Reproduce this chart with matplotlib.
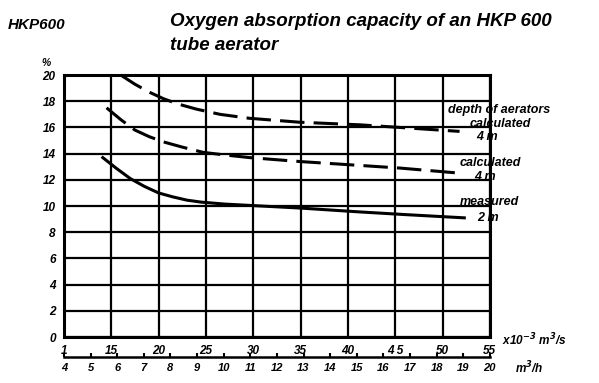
import matplotlib
matplotlib.use('Agg')
import matplotlib.pyplot as plt

plt.rcParams['font.family'] = ['Liberation Sans', 'DejaVu Sans']
plt.rcParams['font.style'] = 'italic'
plt.rcParams['font.weight'] = 'bold'

# flow, x10^-3 m3/s  /  oxygen absorption capacity, %
calc_depth_x = [16.0, 17.5, 19.0, 20.5, 22.0, 24.0, 26.5, 29.6, 34.9, 41.3, 45.5, 51.8]
calc_depth_y = [20.0, 19.3, 18.7, 18.2, 17.8, 17.4, 17.0, 16.7, 16.4, 16.2, 16.0, 15.7]

calc_x = [14.5, 16.0, 17.5, 19.0, 20.5, 22.5, 24.7, 27.0, 29.6, 34.9, 41.3, 45.5, 52.0]
calc_y = [17.5, 16.6, 15.8, 15.3, 14.9, 14.5, 14.1, 13.9, 13.7, 13.4, 13.1, 12.9, 12.5]

meas_x = [14.1, 15.5, 17.0, 18.5, 20.0, 21.5, 23.0, 24.5, 27.0, 29.6, 34.9, 41.3, 46.0, 52.3]
meas_y = [13.7, 12.9, 12.1, 11.5, 11.0, 10.7, 10.45, 10.3, 10.15, 10.05, 9.85, 9.55, 9.35, 9.1]

x_ticks = [10, 15, 20, 25, 30, 35, 40, 45, 50, 55]
x_labels = ['1', '15', '20', '25', '30', '35', '40', '4 5', '50', '55']
y_ticks = [0, 2, 4, 6, 8, 10, 12, 14, 16, 18, 20]
h_ticks = list(range(4, 21))


def to_h(x):
    return 4 + (x - 10) * 16 / 45


def from_h(h):
    return 10 + (h - 4) * 45 / 16


fig = plt.figure(figsize=(5.99, 3.83), dpi=100)
ax = fig.add_axes([0.1068, 0.120, 0.711, 0.684])

ax.set_xlim(10, 55)
ax.set_ylim(0, 20)
ax.set_xticks(x_ticks)
ax.set_xticklabels(x_labels)
ax.set_yticks(y_ticks)
ax.tick_params(length=0, labelsize=8.5, pad=6)
ax.grid(True, color='black', linewidth=1.6)
for s in ax.spines.values():
    s.set_linewidth(2.2)

ax.plot(calc_depth_x, calc_depth_y, color='black', lw=2.2, dashes=(8, 3), clip_on=False)
ax.plot(calc_x, calc_y, color='black', lw=2.2, dashes=(8, 3))
ax.plot(meas_x, meas_y, color='black', lw=2.2)

# curve labels
lab = dict(fontsize=9, ha='center', va='center', clip_on=False)
ax.text(56.0, 17.3, 'depth of aerators', **lab)
ax.text(56.1, 16.3, 'calculated', **lab)
ax.text(54.7, 15.3, '4 m', **lab)
ax.text(55.0, 13.3, 'calculated', **lab)
ax.text(54.5, 12.2, '4 m', **lab)
ax.text(55.0, 10.3, 'measured', **lab)
ax.text(54.8, 9.1, '2 m', **lab)

# secondary axis in m3/h
sec = ax.secondary_xaxis(-0.076, functions=(to_h, from_h))
sec.set_xticks(h_ticks)
sec.tick_params(direction='in', length=3, width=1.5, labelsize=8, pad=4)
sec.spines['bottom'].set_linewidth(1.8)

fig.text(0.838, 0.112, r'x10$^{-3}$ m$^3$/s', fontsize=8.5, ha='left', va='center')
fig.text(0.86, 0.038, r'm$^3$/h', fontsize=8.5, ha='left', va='center')
fig.text(0.077, 0.835, '%', fontsize=7.5, ha='center', va='center')

fig.text(0.013, 0.935, 'HKP600', fontsize=11, ha='left', va='center')
fig.text(0.283, 0.945, 'Oxygen absorption capacity of an HKP 600', fontsize=13.5,
         ha='left', va='center')
fig.text(0.283, 0.882, 'tube aerator', fontsize=13.5, ha='left', va='center')

fig.savefig('out.png', dpi=100)
